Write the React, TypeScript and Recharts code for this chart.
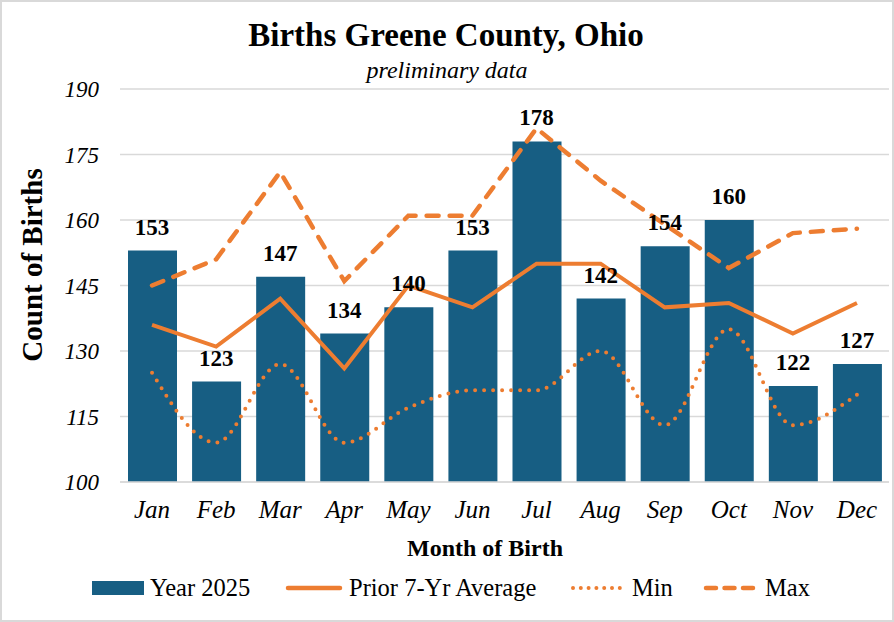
import React from 'react';
import { ComposedChart, Bar, Line, XAxis, YAxis, CartesianGrid, LabelList } from 'recharts';

const months = ['Jan', 'Feb', 'Mar', 'Apr', 'May', 'Jun', 'Jul', 'Aug', 'Sep', 'Oct', 'Nov', 'Dec'];
const year2025 = [153, 123, 147, 134, 140, 153, 178, 142, 154, 160, 122, 127];
const priorAverage = [136, 131, 142, 126, 145, 140, 150, 150, 140, 141, 134, 141];
const priorMin = [125, 109, 127, 109, 117, 121, 121, 130, 113, 135, 113, 120];
const priorMax = [145, 151, 171, 146, 161, 161, 181, 169, 159, 149, 157, 158];
const yTicks = [100, 115, 130, 145, 160, 175, 190];

const data = months.map((month, i) => ({
  month,
  year2025: year2025[i],
  avg: priorAverage[i],
  min: priorMin[i],
  max: priorMax[i],
}));

const FONT = "'Liberation Serif', 'Times New Roman', serif";
const BLUE = '#175e83';
const ORANGE = '#ed7d31';
const GRID = '#d9d9d9';
const W = 894;
const H = 622;

// legend entries with the left edge of each swatch
const legendItems = [
  { label: 'Year 2025', kind: 'bar', left: 92 },
  { label: 'Prior 7-Yr Average', kind: 'solid', left: 285 },
  { label: 'Min', kind: 'dot', left: 570 },
  { label: 'Max', kind: 'dash', left: 703 },
];

function Swatch({ kind }: { kind: string }) {
  if (kind === 'bar') {
    return (
      <svg width={52} height={14} style={{ display: 'block' }}>
        <rect x={0} y={0} width={52} height={14} fill={BLUE} />
      </svg>
    );
  }
  const props: any = { stroke: ORANGE, strokeLinecap: 'round' };
  if (kind === 'solid') {
    return (
      <svg width={58} height={10} style={{ display: 'block' }}>
        <line x1={3} y1={5} x2={55} y2={5} strokeWidth={4.5} {...props} />
      </svg>
    );
  }
  if (kind === 'dot') {
    return (
      <svg width={56} height={10} style={{ display: 'block' }}>
        <line x1={3} y1={5} x2={52} y2={5} strokeWidth={4} strokeDasharray="0 7.8" {...props} />
      </svg>
    );
  }
  return (
    <svg width={56} height={10} style={{ display: 'block' }}>
      <line x1={3} y1={5} x2={54} y2={5} strokeWidth={4.5} strokeDasharray="10 8.5" {...props} />
    </svg>
  );
}

export default function App() {
  return (
    <div style={{ position: 'absolute', left: 0, top: 0, width: W, height: H, background: '#fff', fontFamily: FONT }}>
      <ComposedChart
        width={W}
        height={H}
        data={data}
        margin={{ top: 89, right: 5, bottom: 100, left: 0 }}
        barSize={49}
      >
        <CartesianGrid horizontal vertical={false} stroke={GRID} strokeWidth={1.5} />
        <XAxis
          dataKey="month"
          height={40}
          axisLine={{ stroke: GRID, strokeWidth: 1.5 }}
          tickLine={false}
          tickSize={0}
          tickMargin={18}
          interval={0}
          tick={{ fontFamily: FONT, fontSize: 25, fontStyle: 'italic', fill: '#000' }}
        />
        <YAxis
          width={120}
          domain={[100, 190]}
          ticks={yTicks}
          interval={0}
          axisLine={false}
          tickLine={false}
          tickSize={0}
          tickMargin={21}
          tick={{ fontFamily: FONT, fontSize: 23, fontStyle: 'italic', fill: '#000' }}
        />
        <Bar dataKey="year2025" fill={BLUE} isAnimationActive={false} />
        <Line
          type="linear"
          dataKey="avg"
          stroke={ORANGE}
          strokeWidth={4}
          dot={false}
          activeDot={false}
          isAnimationActive={false}
        />
        <Line
          type="monotone"
          dataKey="min"
          stroke={ORANGE}
          strokeWidth={4}
          strokeDasharray="0 9"
          strokeLinecap="round"
          dot={false}
          activeDot={false}
          isAnimationActive={false}
        />
        <Line
          type="linear"
          dataKey="max"
          stroke={ORANGE}
          strokeWidth={4.5}
          strokeDasharray="12 11"
          strokeLinecap="round"
          dot={false}
          activeDot={false}
          isAnimationActive={false}
        />
        {/* value labels for the 2025 bars, kept above the lines */}
        <Line
          type="linear"
          dataKey="year2025"
          stroke="none"
          dot={false}
          activeDot={false}
          isAnimationActive={false}
        >
          <LabelList
            dataKey="year2025"
            position="top"
            offset={16}
            style={{ fontFamily: FONT, fontSize: 23, fontWeight: 'bold', fill: '#000' }}
          />
        </Line>
      </ComposedChart>

      <svg width={W} height={H} style={{ position: 'absolute', left: 0, top: 0, pointerEvents: 'none' }}>
        <text x={446} y={46} textAnchor="middle" fontFamily={FONT} fontSize={33} fontWeight="bold" fill="#000">
          Births Greene County, Ohio
        </text>
        <text x={447} y={78} textAnchor="middle" fontFamily={FONT} fontSize={24} fontStyle="italic" fill="#000">
          preliminary data
        </text>
        <text
          x={42}
          y={265}
          textAnchor="middle"
          transform="rotate(-90, 42, 265)"
          fontFamily={FONT}
          fontSize={29}
          fontWeight="bold"
          fill="#000"
        >
          Count of Births
        </text>
        <text x={485} y={556} textAnchor="middle" fontFamily={FONT} fontSize={24} fontWeight="bold" fill="#000">
          Month of Birth
        </text>
      </svg>

      {legendItems.map((it) => (
        <div
          key={it.label}
          style={{
            position: 'absolute',
            left: it.left,
            top: 572,
            height: 32,
            display: 'flex',
            alignItems: 'center',
            gap: 6,
            fontSize: 24.5,
            lineHeight: '32px',
            color: '#000',
            whiteSpace: 'nowrap',
          }}
        >
          <Swatch kind={it.kind} />
          <span>{it.label}</span>
        </div>
      ))}

      <div
        style={{
          position: 'absolute',
          left: 0,
          top: 0,
          width: W,
          height: H,
          border: `2px solid ${GRID}`,
          boxSizing: 'border-box',
          pointerEvents: 'none',
        }}
      />
    </div>
  );
}
